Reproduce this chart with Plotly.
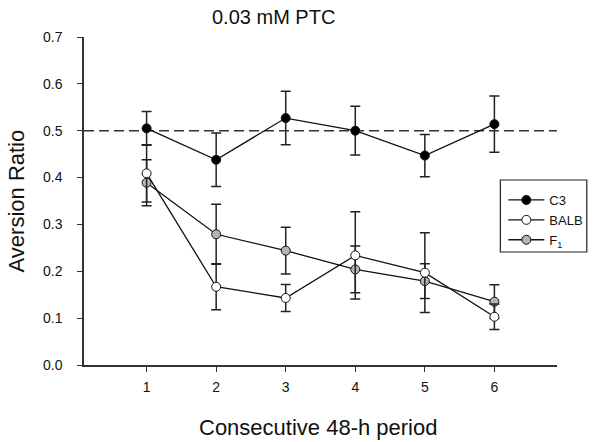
import plotly.graph_objects as go

periods = [1, 2, 3, 4, 5, 6]
c3_mean = [0.505, 0.438, 0.527, 0.500, 0.447, 0.514]
c3_err = [0.036, 0.057, 0.057, 0.052, 0.045, 0.060]
balb_mean = [0.409, 0.167, 0.143, 0.234, 0.197, 0.103]
balb_err = [0.061, 0.049, 0.029, 0.093, 0.085, 0.027]
f1_mean = [0.389, 0.279, 0.244, 0.204, 0.179, 0.135]
f1_err = [0.049, 0.064, 0.050, 0.050, 0.037, 0.036]
reference_level = 0.5
y_ticks = [0.0, 0.1, 0.2, 0.3, 0.4, 0.5, 0.6, 0.7]

FONT = "Liberation Sans, Arial, sans-serif"

W, H = 600, 442
L, R, T, B = 84, 40, 37, 77
pw, ph = W - L - R, H - T - B

def px_x(px):
    return (px - L) / pw

def px_y(py):
    return (H - B - py) / ph

fig = go.Figure()

fig.add_trace(go.Scatter(
    x=[0.1, 6.9], y=[reference_level, reference_level], mode="lines",
    line=dict(color="#333333", width=1.5, dash="10px,5px"),
    showlegend=False, hoverinfo="skip"))

def add_series(name, y, e, fill):
    fig.add_trace(go.Scatter(
        x=periods, y=y, name=name, mode="lines+markers",
        line=dict(color="#111111", width=1.3),
        marker=dict(size=9, color=fill, line=dict(color="#111111", width=1)),
        error_y=dict(type="data", array=e, visible=True, color="#222222",
                     thickness=1.5, width=5)))

add_series("F<sub>1</sub>", f1_mean, f1_err, "#b4b4b4")
add_series("BALB", balb_mean, balb_err, "#ffffff")
add_series("C3", c3_mean, c3_err, "#000000")

fig.update_layout(
    width=W, height=H,
    paper_bgcolor="white", plot_bgcolor="white",
    margin=dict(l=L, r=R, t=T, b=B),
    font=dict(family=FONT, color="#111111"),
    showlegend=True,
    legend=dict(x=px_x(506), xanchor="left", y=px_y(185), yanchor="top",
                traceorder="reversed",
                borderwidth=0, bgcolor="rgba(0,0,0,0)",
                font=dict(size=13, family=FONT, color="#111111"), itemwidth=36),
    xaxis=dict(range=[0.1, 6.9], tickmode="array", tickvals=periods,
               showgrid=False, zeroline=False, showline=True,
               linecolor="#333333", linewidth=1.5,
               ticks="outside", ticklen=5, tickwidth=1.2, tickcolor="#333333",
               tickfont=dict(size=14, family=FONT), ticklabelstandoff=3),
    yaxis=dict(range=[0, 0.7], tickmode="array", tickvals=y_ticks,
               tickformat=".1f",
               showgrid=False, zeroline=False, showline=True,
               linecolor="#333333", linewidth=1.5,
               ticks="outside", ticklen=5, tickwidth=1.2, tickcolor="#333333",
               tickfont=dict(size=14, family=FONT), ticklabelstandoff=12),
    shapes=[dict(type="rect", xref="paper", yref="paper",
                 x0=px_x(503), x1=px_x(590), y0=px_y(252), y1=px_y(180),
                 line=dict(color="#222222", width=1.2), fillcolor="white",
                 layer="below")],
    annotations=[
        dict(text="0.03 mM PTC", x=px_x(275), y=px_y(17), xref="paper", yref="paper",
             xanchor="center", yanchor="middle", showarrow=False,
             font=dict(size=20, family=FONT)),
        dict(text="Consecutive 48-h period", x=px_x(319), y=px_y(427),
             xref="paper", yref="paper", xanchor="center", yanchor="middle",
             showarrow=False, font=dict(size=22, family=FONT)),
        dict(text="Aversion Ratio", x=px_x(16), y=px_y(201), xref="paper",
             yref="paper", xanchor="center", yanchor="middle", showarrow=False,
             textangle=-90, font=dict(size=22, family=FONT)),
    ],
)

fig.write_html("out.html", config={"displayModeBar": False},
               post_script="document.body.style.margin='0';")
